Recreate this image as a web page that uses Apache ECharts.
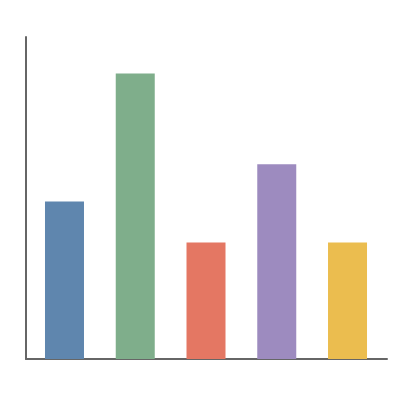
<!DOCTYPE html>
<html>
<head>
<meta charset="utf-8">
<script src="https://cdn.jsdelivr.net/npm/echarts@6/dist/echarts.min.js"></script>
<style>html,body{margin:0;padding:0;background:#fff;}#c{width:400px;height:400px;}</style>
</head>
<body>
<div id="c"></div>
<script>
const categories = ['A', 'B', 'C', 'D', 'E'];
const values = [48.9, 88.7, 36.2, 60.5, 36.2];
const colors = ['#5f86ae', '#7fae8b', '#e47763', '#9d8bbf', '#ebbd4f'];

const chart = echarts.init(document.getElementById('c'), null, {renderer: 'canvas'});
chart.setOption({
  animation: false,
  backgroundColor: '#ffffff',
  grid: {left: 26, right: 13, top: 37, bottom: 41},
  xAxis: {
    type: 'value', min: -0.544, max: 4.558,
    axisLine: {show: true, onZero: false, lineStyle: {color: '#666666', width: 2}},
    axisTick: {show: false}, axisLabel: {show: false}, splitLine: {show: false}
  },
  yAxis: {
    type: 'value', min: 0, max: 100,
    axisLine: {show: true, onZero: false, lineStyle: {color: '#666666', width: 2}},
    axisTick: {show: false}, axisLabel: {show: false}, splitLine: {show: false}
  },
  series: [{
    type: 'bar',
    barWidth: 39,
    data: values.map((v, i) => ({name: categories[i], value: [i, v], itemStyle: {color: colors[i]}}))
  }]
});
</script>
</body>
</html>
